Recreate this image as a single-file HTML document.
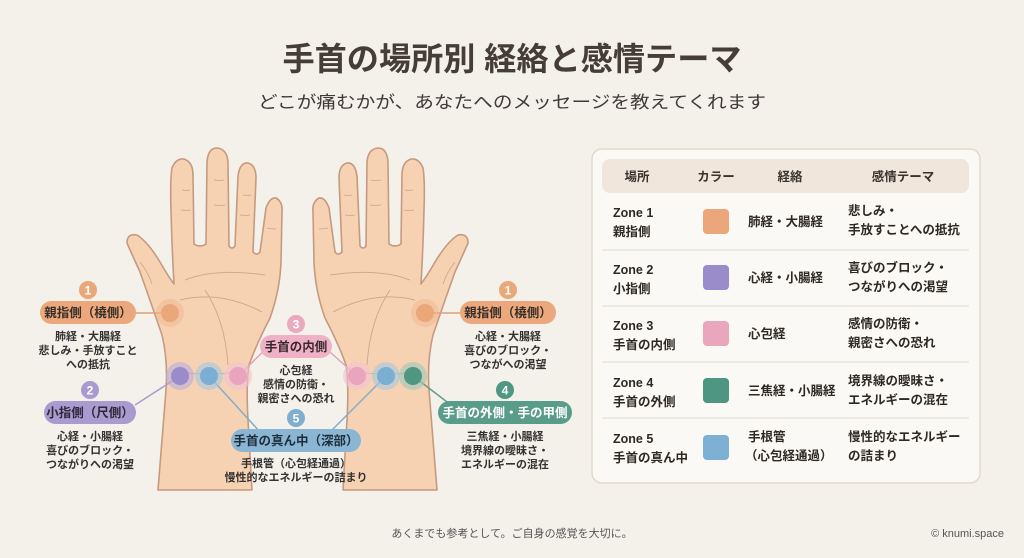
<!DOCTYPE html>
<html><head><meta charset="utf-8"><style>
html,body{margin:0;padding:0;background:#f4f0ea;}
svg{display:block;}
text{font-family:"Liberation Sans","Noto Sans CJK JP",sans-serif;}
</style></head><body>
<svg width="1024" height="558" viewBox="0 0 1024 558" xmlns="http://www.w3.org/2000/svg">
<rect width="1024" height="558" fill="#f4f0ea"/>
<text x="512" y="70" text-anchor="middle" font-size="32" font-weight="bold" fill="#463d37" textLength="459" lengthAdjust="spacingAndGlyphs">手首の場所別 経絡と感情テーマ</text>
<text x="512" y="108" text-anchor="middle" font-size="17" fill="#3f3a36" textLength="508" lengthAdjust="spacingAndGlyphs">どこが痛むかが、あなたへのメッセージを教えてくれます</text>

<defs>
<g id="hand">
<path d="M158,490 L166,390 Q168,360 162,335 Q150,300 140,272 Q130,250 127,243 Q127,233 137,235 Q148,242 160,262 Q168,276 174,284 Q172,250 171,210 Q170,180 172,168 Q176,158 184,159 Q193,162 193,175 L194,244 Q200,248 206,244 L207,162 Q208,148 217,148 Q227,149 228,162 L229,246 Q232,250 235,246 L238,176 Q240,162 248,163 Q256,165 256,178 L253,252 Q257,256 260,252 L266,208 Q270,197 276,198 Q283,202 282,212 L281,262 Q280,290 270,318 Q256,345 249,365 Q246,385 248,420 L252,490 Z" fill="#f6d2b3" stroke="#c59a80" stroke-width="1.6" stroke-linejoin="round"/>
<path d="M181,210 q6,1 10,0 M214,205 q7,1 11,0 M240,215 q6,1 10,0 M267,228 q5,1 9,1 M182,190 q5,1 8,0 M214,180 q6,1 10,0 M243,195 q5,1 8,0" stroke="#d6ad92" stroke-width="1" fill="none"/>
<path d="M185,280 Q215,268 265,275 M180,300 Q220,290 262,312 M205,290 Q225,320 228,365 M140,262 q8,10 12,22" stroke="#d3a88c" stroke-width="1" fill="none"/>
<path d="M178,372 q30,4 60,0" stroke="#d6ad92" stroke-width="1" fill="none"/>
</g>
</defs>
<use href="#hand"/>
<use href="#hand" transform="translate(595,0) scale(-1,1)"/>

<!-- connector lines -->
<g stroke-width="1.5" fill="none">
<line x1="130" y1="313" x2="170" y2="313" stroke="#dba07a"/>
<line x1="462" y1="313" x2="425" y2="313" stroke="#dba07a"/>
<line x1="135" y1="405" x2="180" y2="376" stroke="#a99ad0"/>
<line x1="270" y1="345" x2="238" y2="376" stroke="#e3a2b8"/>
<line x1="322" y1="345" x2="357" y2="376" stroke="#e3a2b8"/>
<line x1="455" y1="408" x2="413" y2="376" stroke="#5e9e8e"/>
<line x1="260" y1="432" x2="209" y2="376" stroke="#80aece"/>
<line x1="330" y1="432" x2="386" y2="376" stroke="#80aece"/>
</g>

<!-- dots -->
<g>
<circle cx="170" cy="313" r="14" fill="#f0b68e" opacity="0.5"/><circle cx="170" cy="313" r="9" fill="#e9a77a"/>
<circle cx="425" cy="313" r="14" fill="#f0b68e" opacity="0.5"/><circle cx="425" cy="313" r="9" fill="#e9a77a"/>
<circle cx="180" cy="376" r="14" fill="#b9abdc" opacity="0.6"/><circle cx="180" cy="376" r="9" fill="#9a8bcd"/>
<circle cx="209" cy="376" r="14" fill="#a6c8e0" opacity="0.6"/><circle cx="209" cy="376" r="9" fill="#79afd2"/>
<circle cx="238" cy="376" r="14" fill="#f2c2d2" opacity="0.6"/><circle cx="238" cy="376" r="9" fill="#e8a5bd"/>
<circle cx="357" cy="376" r="14" fill="#f2c2d2" opacity="0.6"/><circle cx="357" cy="376" r="9" fill="#e8a5bd"/>
<circle cx="386" cy="376" r="14" fill="#a6c8e0" opacity="0.6"/><circle cx="386" cy="376" r="9" fill="#79afd2"/>
<circle cx="413" cy="376" r="14" fill="#9cc6ba" opacity="0.6"/><circle cx="413" cy="376" r="9" fill="#4f9683"/>
</g>

<!-- labels -->
<g font-weight="bold" text-anchor="middle">
<circle cx="88" cy="290" r="9" fill="#e9a77a"/><text x="88" y="294.5" font-size="12" fill="#fff">1</text>
<rect x="40" y="301" width="96" height="23" rx="11.5" fill="#eaa87c"/><text x="88" y="317" font-size="12.5" fill="#3a2e28">親指側（橈側）</text>
<text font-size="11" fill="#333"><tspan x="88" y="340">肺経・大腸経</tspan><tspan x="88" y="354">悲しみ・手放すこと</tspan><tspan x="88" y="368">への抵抗</tspan></text>

<circle cx="508" cy="290" r="9" fill="#e9a77a"/><text x="508" y="294.5" font-size="12" fill="#fff">1</text>
<rect x="460" y="301" width="96" height="23" rx="11.5" fill="#eaa87c"/><text x="508" y="317" font-size="12.5" fill="#3a2e28">親指側（橈側）</text>
<text font-size="11" fill="#333"><tspan x="508" y="340">心経・大腸経</tspan><tspan x="508" y="354">喜びのブロック・</tspan><tspan x="508" y="368">つながへの渇望</tspan></text>

<circle cx="90" cy="390" r="9" fill="#a99ad0"/><text x="90" y="394.5" font-size="12" fill="#fff">2</text>
<rect x="44" y="401" width="92" height="23" rx="11.5" fill="#a99ad0"/><text x="90" y="417" font-size="12.5" fill="#2e2838">小指側（尺側）</text>
<text font-size="11" fill="#333"><tspan x="90" y="440">心経・小腸経</tspan><tspan x="90" y="454">喜びのブロック・</tspan><tspan x="90" y="468">つながりへの渇望</tspan></text>

<circle cx="296" cy="324" r="9" fill="#e9a9bf"/><text x="296" y="328.5" font-size="12" fill="#fff">3</text>
<rect x="260" y="335" width="72" height="23" rx="11.5" fill="#efb1c5"/><text x="296" y="351" font-size="12.5" fill="#3a2830">手首の内側</text>
<text font-size="11" fill="#333"><tspan x="296" y="374">心包経</tspan><tspan x="296" y="388">感情の防衛・</tspan><tspan x="296" y="402">親密さへの恐れ</tspan></text>

<circle cx="505" cy="390" r="9" fill="#4f9683"/><text x="505" y="394.5" font-size="12" fill="#fff">4</text>
<rect x="438" y="401" width="134" height="23" rx="11.5" fill="#5a9c8a"/><text x="505" y="417" font-size="12.5" fill="#fff">手首の外側・手の甲側</text>
<text font-size="11" fill="#333"><tspan x="505" y="440">三焦経・小腸経</tspan><tspan x="505" y="454">境界線の曖昧さ・</tspan><tspan x="505" y="468">エネルギーの混在</tspan></text>

<circle cx="296" cy="418" r="9" fill="#80aece"/><text x="296" y="422.5" font-size="12" fill="#fff">5</text>
<rect x="231" y="429" width="130" height="23" rx="11.5" fill="#8ab6d4"/><text x="296" y="445" font-size="12.5" fill="#1f2e3a">手首の真ん中（深部）</text>
<text font-size="11" fill="#333"><tspan x="296" y="467">手根管（心包経通過）</tspan><tspan x="296" y="481">慢性的なエネルギーの詰まり</tspan></text>
</g>

<!-- table -->
<rect x="592" y="149" width="388" height="334" rx="10" fill="#fbf9f5" stroke="#e4dac9" stroke-width="1.5"/>
<rect x="602" y="159" width="367" height="34" rx="8" fill="#f0e6db"/>
<g font-size="12.5" font-weight="bold" fill="#3a332e" text-anchor="middle">
<text x="637" y="181">場所</text><text x="716" y="181">カラー</text><text x="790" y="181">経絡</text><text x="903" y="181">感情テーマ</text>
</g>
<g stroke="#e6ddd0" stroke-width="1">
<line x1="602" y1="250" x2="969" y2="250"/><line x1="602" y1="306" x2="969" y2="306"/><line x1="602" y1="362" x2="969" y2="362"/><line x1="602" y1="418" x2="969" y2="418"/>
</g>
<g font-size="12.5" font-weight="bold" fill="#2e2925">
<text x="613" y="217">Zone 1</text><text x="613" y="236">親指側</text>
<rect x="703" y="209" width="26" height="25" rx="4" fill="#eba679"/>
<text x="748" y="226">肺経・大腸経</text>
<text x="848" y="215">悲しみ・</text><text x="848" y="234">手放すことへの抵抗</text>

<text x="613" y="274">Zone 2</text><text x="613" y="293">小指側</text>
<rect x="703" y="265" width="26" height="25" rx="4" fill="#9a8bcb"/>
<text x="748" y="282">心経・小腸経</text>
<text x="848" y="272">喜びのブロック・</text><text x="848" y="291">つながりへの渇望</text>

<text x="613" y="330">Zone 3</text><text x="613" y="349">手首の内側</text>
<rect x="703" y="321" width="26" height="25" rx="4" fill="#eaa6bd"/>
<text x="748" y="338">心包経</text>
<text x="848" y="328">感情の防衛・</text><text x="848" y="347">親密さへの恐れ</text>

<text x="613" y="387">Zone 4</text><text x="613" y="406">手首の外側</text>
<rect x="703" y="378" width="26" height="25" rx="4" fill="#4e9582"/>
<text x="748" y="395">三焦経・小腸経</text>
<text x="848" y="385">境界線の曖昧さ・</text><text x="848" y="404">エネルギーの混在</text>

<text x="613" y="443">Zone 5</text><text x="613" y="462">手首の真ん中</text>
<rect x="703" y="435" width="26" height="25" rx="4" fill="#7eb0d3"/>
<text x="748" y="441">手根管</text><text x="745" y="460">（心包経通過）</text>
<text x="848" y="441">慢性的なエネルギー</text><text x="848" y="460">の詰まり</text>
</g>

<text x="512" y="537" text-anchor="middle" font-size="11" fill="#555">あくまでも参考として。ご自身の感覚を大切に。</text>
<text x="1004" y="537" text-anchor="end" font-size="11" fill="#555">© knumi.space</text>
</svg>
</body></html>
